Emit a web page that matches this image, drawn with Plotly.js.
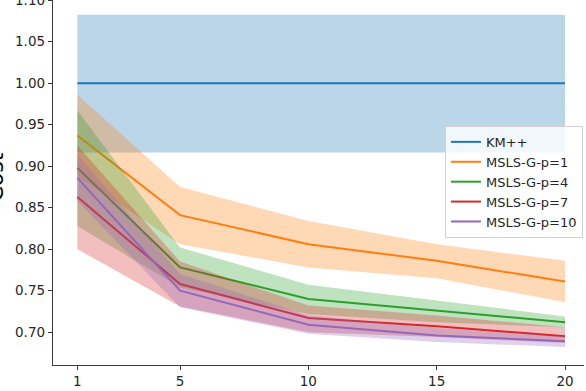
<!DOCTYPE html>
<html>
<head>
<meta charset="utf-8">
<script src="https://cdn.plot.ly/plotly-3.0.1.min.js"></script>
<style>
  body { margin: 0; padding: 0; background: #fff; }
  #chart { width: 586px; height: 391px; }
</style>
</head>
<body>
<div id="chart"></div>
<script>
const xs = [1, 5, 10, 15, 20];

const names = ['KM++', 'MSLS-G-p=1', 'MSLS-G-p=4', 'MSLS-G-p=7', 'MSLS-G-p=10'];
const colors = ['#1f77b4', '#ff7f0e', '#2ca02c', '#d62728', '#9467bd'];
const fills = ['rgba(31,119,180,0.3)', 'rgba(255,127,14,0.3)', 'rgba(44,160,44,0.3)',
               'rgba(214,39,40,0.3)', 'rgba(148,103,189,0.3)'];

const kmMean = [1.0, 1.0, 1.0, 1.0, 1.0];
const kmUpper = [1.0824, 1.0824, 1.0824, 1.0824, 1.0824];
const kmLower = [0.9164, 0.9164, 0.9164, 0.9164, 0.9164];

const p1Mean = [0.937, 0.841, 0.806, 0.786, 0.761];
const p1Upper = [0.986, 0.875, 0.834, 0.806, 0.786];
const p1Lower = [0.888, 0.806, 0.778, 0.765, 0.736];

const p4Mean = [0.898, 0.778, 0.740, 0.726, 0.712];
const p4Upper = [0.967, 0.802, 0.757, 0.738, 0.719];
const p4Lower = [0.828, 0.754, 0.722, 0.712, 0.706];

const p7Mean = [0.863, 0.758, 0.717, 0.707, 0.695];
const p7Upper = [0.925, 0.785, 0.732, 0.720, 0.706];
const p7Lower = [0.800, 0.731, 0.700, 0.694, 0.687];

const p10Mean = [0.886, 0.750, 0.709, 0.696, 0.689];
const p10Upper = [0.914, 0.770, 0.720, 0.705, 0.695];
const p10Lower = [0.858, 0.730, 0.698, 0.688, 0.682];

const yTicks = [0.70, 0.75, 0.80, 0.85, 0.90, 0.95, 1.00, 1.05, 1.10];
const xTicks = [1, 5, 10, 15, 20];

const series = [
    [kmMean, kmUpper, kmLower],
    [p1Mean, p1Upper, p1Lower],
    [p4Mean, p4Upper, p4Lower],
    [p7Mean, p7Upper, p7Lower],
    [p10Mean, p10Upper, p10Lower]
];

const data = [];
series.forEach((s, i) => {
    data.push({
        type: 'scatter',
        mode: 'lines',
        x: xs,
        y: s[0],
        name: names[i],
        line: { color: colors[i], width: 2 },
        hoverinfo: 'skip'
    });
    data.push({
        type: 'scatter',
        mode: 'lines',
        x: xs.concat(xs.slice().reverse()),
        y: s[1].concat(s[2].slice().reverse()),
        fill: 'toself',
        fillcolor: fills[i],
        line: { width: 0, color: 'rgba(0,0,0,0)' },
        showlegend: false,
        hoverinfo: 'skip'
    });
});

const tickFont = { family: 'DejaVu Sans', size: 13.5, color: '#262626' };

const layout = {
    width: 586,
    height: 391,
    margin: { l: 53, r: 2, t: 0, b: 26 },
    paper_bgcolor: '#fff',
    plot_bgcolor: '#fff',
    showlegend: true,
    xaxis: {
        range: [0.05, 20.74],
        tickvals: xTicks,
        ticktext: xTicks.map(String),
        showgrid: false,
        zeroline: false,
        showline: true,
        linecolor: '#3a3a3a',
        linewidth: 1.2,
        ticks: 'outside',
        ticklen: 4,
        tickcolor: '#3a3a3a',
        tickfont: tickFont
    },
    yaxis: {
        range: [0.6604, 1.1003],
        tickvals: yTicks,
        ticktext: yTicks.map(v => v.toFixed(2)),
        ticklabeloverflow: 'allow',
        showgrid: false,
        zeroline: false,
        showline: true,
        linecolor: '#3a3a3a',
        linewidth: 1.2,
        ticks: 'outside',
        ticklen: 4,
        tickcolor: '#3a3a3a',
        tickfont: tickFont
    },
    legend: {
        x: 0.998,
        xanchor: 'right',
        y: 0.655,
        yanchor: 'top',
        bgcolor: 'rgba(255,255,255,0.8)',
        bordercolor: '#d0d0d0',
        borderwidth: 1,
        itemwidth: 30,
        font: { family: 'DejaVu Sans', size: 13, color: '#262626' },
        tracegroupgap: 0
    },
    annotations: [{
        text: 'Cost',
        xref: 'paper',
        yref: 'paper',
        x: (9 - 53) / 531,
        y: 1 - 177 / 365,
        xanchor: 'right',
        yanchor: 'middle',
        textangle: -90,
        showarrow: false,
        font: { family: 'DejaVu Sans', size: 22, color: '#000' }
    }]
};

Plotly.newPlot('chart', data, layout, { displayModeBar: false, staticPlot: true });
</script>
</body>
</html>
